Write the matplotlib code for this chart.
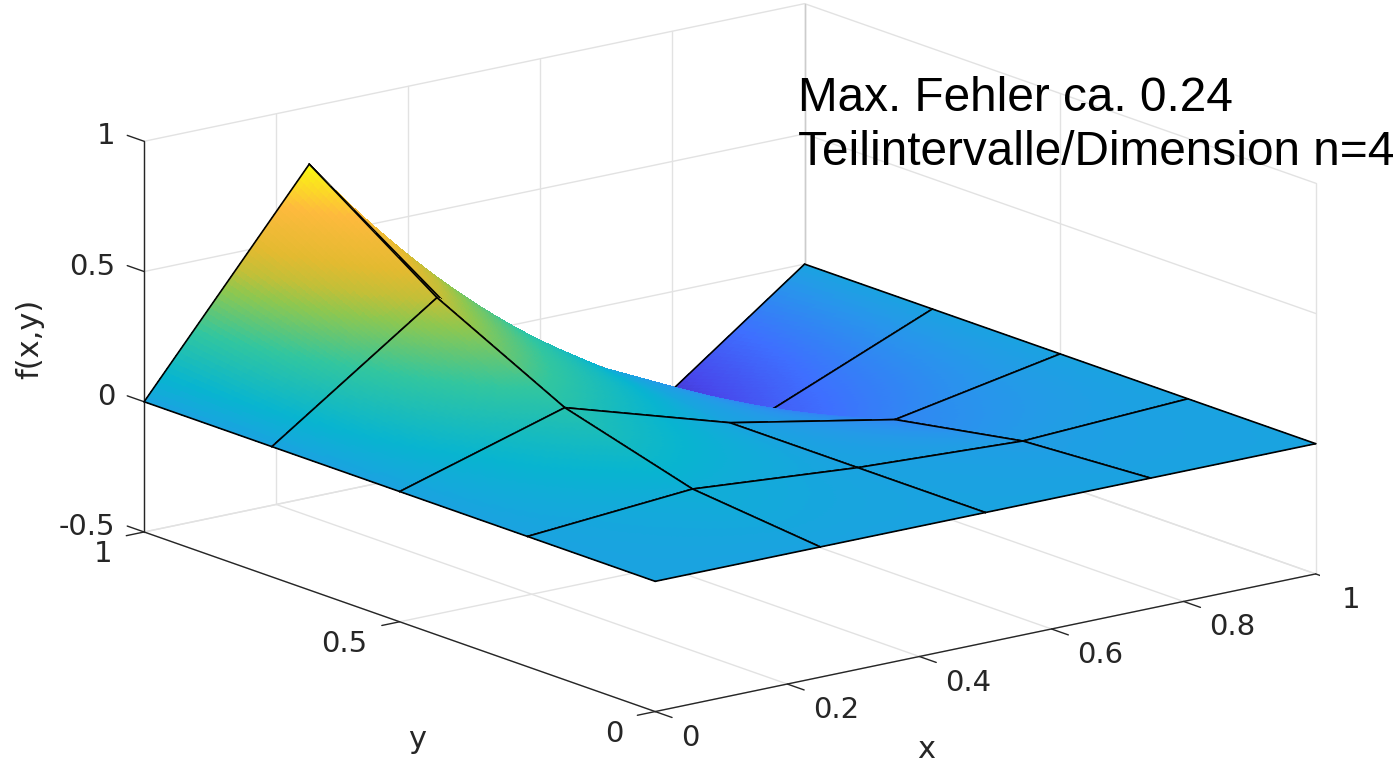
import numpy as np
import matplotlib
matplotlib.use("Agg")
import matplotlib.pyplot as plt
from matplotlib.colors import LinearSegmentedColormap, Normalize
from mpl_toolkits.mplot3d import proj3d

W, H = 1400, 761

# Nodes of the 4x4 mesh, rows are y, columns are x
x_nodes = [0, 0.25, 0.5, 0.75, 1]
y_nodes = [0, 0.25, 0.5, 0.75, 1]
z_y0 = [0, 0, 0, 0, 0]
z_y1 = [0, 0.05, 0, -0.03, 0]
z_y2 = [0, 0.19, 0, -0.12, 0]
z_y3 = [0, 0.44, 0.04, -0.265, 0]
z_y4 = [0, 0.78, 0, -0.47, 0]

x_ticks = [0, 0.2, 0.4, 0.6, 0.8, 1]
y_ticks = [0, 0.5, 1]
z_ticks = [-0.5, 0, 0.5, 1]
x_ticklabels = ["0", "0.2", "0.4", "0.6", "0.8", "1"]
y_ticklabels = ["0", "0.5", "1"]
z_ticklabels = ["-0.5", "0", "0.5", "1"]

# mesh edges that show no black line in the picture: (x index, y index, direction)
no_line_edges = [(1, 3, "x"), (2, 3, "x"), (2, 2, "y"), (3, 2, "y")]

parula_pos = [0, 0.11, 0.22, 0.33, 0.44, 0.56, 0.67, 0.72, 0.78, 0.89, 1]
parula_rgb = [(.2422, .1504, .6603), (.2803, .2782, .9221), (.2440, .4358, .9988),
              (.1540, .5902, .9218), (.0297, .7082, .8163), (.1938, .7758, .6251),
              (.5600, .7800, .3100), (.7600, .7500, .2200), (.8900, .7300, .1900),
              (.9950, .7300, .2400), (.9763, .9831, .0538)]
parula = LinearSegmentedColormap.from_list("parula", list(zip(parula_pos, parula_rgb)))

GRID = "#e2e2e2"
DARK = "#262626"
TICK_FS = 21

Z = np.array([z_y0, z_y1, z_y2, z_y3, z_y4])
norm = Normalize(Z.min(), Z.max())

fig = plt.figure(figsize=(W / 100, H / 100), dpi=100)
S = 1213
ax = fig.add_axes([107 / W, -219.5 / H, S / W, S / H], projection="3d", proj_type="ortho",
                  computed_zorder=False)
ax.set_box_aspect((834, 838, 406))
ax.view_init(elev=15.7, azim=-127.6)
ax.set_xlim(0, 1)
ax.set_ylim(0, 1)
ax.set_zlim(-0.5, 1)
ax.set_axis_off()


def seg(p, q, color=GRID, lw=1.0, zorder=1):
    ax.plot([p[0], q[0]], [p[1], q[1]], [p[2], q[2]], color=color, lw=lw, zorder=zorder,
            solid_capstyle="round")


# grid on the two back walls and the floor
for x in x_ticks:
    seg((x, 0, -0.5), (x, 1, -0.5))
    seg((x, 1, -0.5), (x, 1, 1))
for y in y_ticks:
    seg((0, y, -0.5), (1, y, -0.5))
    seg((1, y, -0.5), (1, y, 1))
for z in z_ticks:
    seg((0, 1, z), (1, 1, z))
    seg((1, 0, z), (1, 1, z))
seg((1, 1, -0.5), (1, 1, 1), color="#cccccc")

# axis lines and ticks
seg((0, 0, -0.5), (1, 0, -0.5), color=DARK, zorder=1.5)
seg((0, 0, -0.5), (0, 1, -0.5), color=DARK, zorder=1.5)
seg((0, 1, -0.5), (0, 1, 1), color=DARK, zorder=1.5)
for x in x_ticks:
    seg((x, 0, -0.5), (x, -0.033, -0.5), color=DARK, zorder=1.5)
for y in y_ticks:
    seg((0, y, -0.5), (-0.027, y, -0.5), color=DARK, zorder=1.5)
for z in z_ticks:
    seg((0, 1, z), (0, 1.033, z), color=DARK, zorder=1.5)

# surface, cell by cell from the far corner to the near one
u = np.linspace(0, 1, 49)
order = 2.0
for i in range(3, -1, -1):
    for j in range(3, -1, -1):
        X, Y = np.meshgrid(x_nodes[j] + u * 0.25, y_nodes[i] + u * 0.25)
        U, V = np.meshgrid(u, u)
        Zc = ((1 - V) * ((1 - U) * Z[i, j] + U * Z[i, j + 1])
              + V * ((1 - U) * Z[i + 1, j] + U * Z[i + 1, j + 1]))
        mid = (Zc[:-1, :-1] + Zc[1:, :-1] + Zc[:-1, 1:] + Zc[1:, 1:]) / 4
        ax.plot_surface(X, Y, Zc, facecolors=parula(norm(mid)), shade=False, rstride=1, cstride=1,
                        linewidth=0, antialiased=False, zorder=order)
        order += 1
        for a, b, direction in [(j, i, "x"), (j, i + 1, "x"), (j, i, "y"), (j + 1, i, "y")]:
            if (a, b, direction) in no_line_edges:
                continue
            p = (x_nodes[a], y_nodes[b], Z[b, a])
            if direction == "x":
                q = (x_nodes[a + 1], y_nodes[b], Z[b, a + 1])
            else:
                q = (x_nodes[a], y_nodes[b + 1], Z[b + 1, a])
            seg(p, q, color="black", lw=1.2, zorder=order)
        order += 1


def tick_label(pos, text, dx, dy, ha):
    px, py, _ = proj3d.proj_transform(pos[0], pos[1], pos[2], ax.get_proj())
    ax.annotate(text, (px, py), xytext=(dx, dy), textcoords="offset pixels", ha=ha, va="center",
                fontsize=TICK_FS, color=DARK, zorder=500, annotation_clip=False)


for x, t in zip(x_ticks, x_ticklabels):
    tick_label((x, 0, -0.5), t, 26, -26, "left")
for y, t in zip(y_ticks, y_ticklabels):
    tick_label((0, y, -0.5), t, -32, -22, "right")
for z, t in zip(z_ticks, z_ticklabels):
    tick_label((0, 1, z), t, -29, 5, "right")

fig.text(30 / W, 1 - 339 / H, "f(x,y)", rotation=90, ha="center", va="center", fontsize=22, color=DARK)
fig.text(417 / W, 1 - 739 / H, "y", ha="center", va="center", fontsize=22, color=DARK)
fig.text(926 / W, 1 - 749 / H, "x", ha="center", va="center", fontsize=22, color=DARK)

fig.text(798 / W, 1 - 111 / H, "Max. Fehler ca. 0.24", family="Liberation Sans", fontsize=34.4,
         color="black", va="baseline")
fig.text(798 / W, 1 - 165 / H, "Teilintervalle/Dimension n=4", family="Liberation Sans", fontsize=34.4,
         color="black", va="baseline")

fig.savefig("out.png", dpi=100)
